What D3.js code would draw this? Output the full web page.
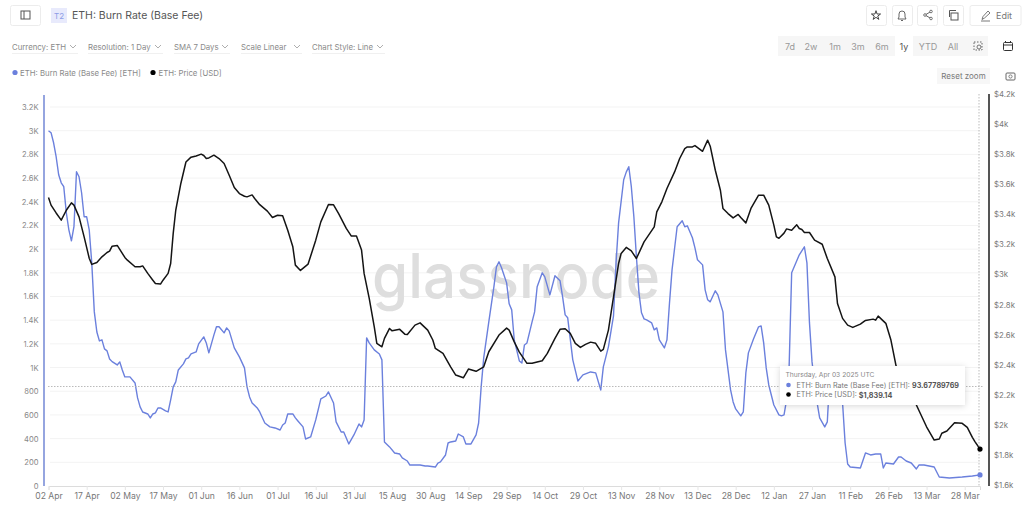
<!DOCTYPE html>
<html><head><meta charset="utf-8">
<script src="https://cdnjs.cloudflare.com/ajax/libs/d3/7.8.5/d3.min.js"></script>
<style>html,body{margin:0;padding:0;background:#fff;overflow:hidden}svg{display:block;font-family:Inter,"Open Sans",sans-serif}</style>
</head><body><svg id="c" width="1024" height="518"></svg>
<script>
const burnDays=[0,1,2,3,4,5,6,7,8,9,10,11,12,13,14,15,16,17,18,19,20,21,22,23,24,25,27,28,29,30,32,34,35,36,37,39,40,41,42,43,44,46,47,48,49,50,51,53,54,55,56,58,59,61,62,63,65,66,67,69,70,71,73,75,77,78,79,80,82,83,85,87,89,91,92,93,94,96,97,98,100,101,103,105,107,109,110,112,113,115,116,118,120,122,123,124,125,126,128,130,131,132,134,136,138,139,141,142,144,146,148,149,152,153,154,156,157,158,160,161,163,164,166,168,169,170,171,173,175,176,177,178,180,181,182,183,185,186,187,188,190,191,192,194,195,197,199,201,202,203,204,206,208,210,213,215,217,218,220,222,223,224,226,227,228,229,230,231,232,233,234,235,237,238,239,240,242,243,244,245,247,249,250,251,253,254,255,257,258,259,260,262,263,265,266,268,269,270,272,273,274,275,277,279,280,281,282,283,285,287,288,289,290,291,292,294,295,297,298,299,300,302,303,305,306,307,309,310,312,313,314,315,319,321,323,325,327,328,329,332,334,335,337,339,341,342,344,348,350,354,359,363,366];
const burnValues=[3000,2983,2898,2780,2628,2560,2527,2307,2163,2070,2189,2653,2611,2476,2273,2273,2163,1884,1470,1300,1225,1234,1158,1141,1073,1050,1022,1048,980,921,921,870,744,668,625,608,575,608,617,659,659,634,625,727,837,879,980,1031,1073,1082,1115,1132,1200,1259,1208,1124,1276,1344,1344,1293,1335,1310,1166,1090,997,837,752,701,659,625,532,499,490,473,515,532,608,608,575,549,499,397,414,558,735,760,794,701,541,456,456,355,431,524,499,558,1251,1208,1149,1115,1065,372,330,279,270,237,211,177,177,177,169,169,160,194,203,262,363,372,380,439,414,355,355,431,532,837,1082,1386,1682,1850,1893,1842,1715,1538,1487,1234,1056,1039,1191,1208,1386,1470,1682,1800,1766,1614,1775,1732,1597,1445,1420,1065,887,938,963,955,811,1006,1175,1437,1884,2222,2586,2650,2696,2527,2273,1935,1631,1462,1411,1403,1377,1318,1335,1234,1166,1234,1546,1825,2189,2239,2189,2197,2096,2011,1910,1867,1656,1572,1555,1648,1614,1470,1149,811,710,651,592,625,955,1124,1242,1344,1352,1208,997,853,684,600,592,600,727,1006,1800,1901,1952,2020,1884,1377,1048,701,575,499,541,938,980,963,701,363,186,160,152,279,262,270,270,152,194,186,245,245,211,194,144,177,177,160,76,68,76,85,93.68];
const priceDays=[0,1,3,5,7,9,10,12,14,16,17,19,21,23,24,25,27,29,30,31,34,36,37,39,41,42,44,45,47,48,49,50,52,54,56,58,60,61,62,63,65,67,69,71,73,75,77,78,80,81,83,86,88,90,92,94,96,97,99,102,105,107,110,112,114,117,119,121,123,124,126,128,129,131,132,134,135,138,140,141,144,146,149,151,152,155,158,160,163,165,168,171,173,177,180,181,183,185,188,190,194,196,199,201,203,205,207,209,211,213,215,217,218,220,222,224,225,227,229,231,234,238,239,241,243,246,248,250,251,253,254,257,259,260,262,264,265,267,269,271,272,274,276,279,281,283,285,286,287,289,290,292,294,295,296,297,299,301,304,306,309,310,312,314,316,319,321,324,325,326,329,331,333,337,341,345,348,350,351,353,356,359,361,363,364,366];
const priceValues=[3512,3461,3409,3361,3427,3476,3461,3383,3250,3108,3067,3080,3117,3146,3155,3188,3193,3140,3113,3095,3051,3051,3057,3007,2962,2940,2936,2962,3007,3073,3273,3427,3605,3748,3780,3788,3800,3791,3771,3775,3793,3771,3738,3660,3578,3538,3520,3516,3529,3505,3464,3421,3379,3394,3390,3294,3184,3062,3027,3069,3228,3350,3465,3463,3405,3306,3255,3255,3162,3007,2843,2652,2542,2519,2575,2641,2625,2635,2603,2601,2663,2678,2630,2564,2508,2475,2386,2331,2313,2371,2356,2386,2486,2597,2643,2630,2552,2484,2409,2409,2426,2475,2575,2635,2639,2608,2542,2515,2535,2550,2542,2490,2502,2630,2851,3073,3140,3180,3157,3106,3217,3316,3416,3483,3572,3682,3771,3837,3848,3848,3857,3819,3893,3853,3693,3560,3439,3405,3376,3399,3379,3343,3439,3527,3527,3461,3328,3250,3241,3275,3303,3294,3330,3306,3299,3279,3279,3228,3201,3106,2984,2807,2708,2663,2648,2670,2694,2703,2696,2723,2675,2564,2394,2265,2132,1987,1899,1906,1944,1959,2014,2010,1983,1917,1888,1839.14];
const leftTicks=[0,200,400,600,800,1000,1200,1400,1600,1800,2000,2200,2400,2600,2800,3000,3200];
const rightTicks=[1600,1800,2000,2200,2400,2600,2800,3000,3200,3400,3600,3800,4000,4200];
const xTickDays=[0,15,30,45,60,75,90,105,120,135,150,165,180,195,210,225,240,255,270,285,300,315,330,345,360];
const controls=[["Currency: ETH",12,70],["Resolution: 1 Day",88,155],["SMA 7 Days",174,222],["Scale Linear",241,294],["Chart Style: Line",312,377]];
const ranges=[["7d",790],["2w",811],["1m",835],["3m",858],["6m",882],["1y",904],["YTD",928],["All",953]];
const startDate=Date.UTC(2024,3,2), DAY=864e5;
const toDate=d=>new Date(startDate+d*DAY);
const blue="#6b80dd", black="#141414";

const svg=d3.select("#c");
const x=d3.scaleUtc().domain([toDate(0),toDate(366)]).range([48.5,980]);
const yL=d3.scaleLinear().domain([0,3200]).range([486,107]);
const yR=d3.scaleLinear().domain([1600,4200]).range([485,94]);

const defs=svg.append("defs");
const f=defs.append("filter").attr("id","sh").attr("x","-10%").attr("y","-30%").attr("width","120%").attr("height","160%");
f.append("feDropShadow").attr("dx",0).attr("dy",1).attr("stdDeviation",3).attr("flood-color","#000").attr("flood-opacity",0.16);

// header
const box=(x0,y0,w,h)=>svg.append("rect").attr("x",x0+.5).attr("y",y0+.5).attr("width",w).attr("height",h).attr("rx",2).attr("fill","#fff").attr("stroke","#ececec");
const T=(s,x0,y0,size,col,anchor,weight)=>svg.append("text").text(s).attr("x",x0).attr("y",y0).attr("font-size",size).attr("fill",col).attr("text-anchor",anchor||"start").attr("font-weight",weight||400).attr("dominant-baseline","central");
box(10,5,30,20);
svg.append("rect").attr("x",21).attr("y",11).attr("width",9).attr("height",8).attr("fill","none").attr("stroke","#555");
svg.append("line").attr("x1",24).attr("x2",24).attr("y1",11).attr("y2",19).attr("stroke","#555");
svg.append("rect").attr("x",51).attr("y",8).attr("width",16).attr("height",15).attr("fill","#e8eafc");
T("T2",59,15.5,8,"#8d9ce6","middle");
T("ETH: Burn Rate (Base Fee)",72,15,10.5,"#555");

controls.forEach(c=>{
  T(c[0],c[1],46.5,7.8,"#8a8a8a");
  svg.append("line").attr("x1",c[1]).attr("x2",c[2]+8).attr("y1",53.5).attr("y2",53.5).attr("stroke","#f0f0f0");
  svg.append("path").attr("d",`M${c[2]},45 l3,3 l3,-3`).attr("fill","none").attr("stroke","#999").attr("stroke-width",.8);
});
svg.append("circle").attr("cx",15).attr("cy",72.5).attr("r",2.6).attr("fill",blue);
T("ETH: Burn Rate (Base Fee) [ETH]",20,72.5,7.8,"#8a8a8a");
svg.append("circle").attr("cx",153).attr("cy",72.5).attr("r",2.6).attr("fill","#000");
T("ETH: Price [USD]",158.5,72.5,7.8,"#8a8a8a");

// right tools
[[866,20],[892,20],[917,20],[943,20]].forEach(b=>box(b[0],5,b[1],20));
box(969.5,5,51,20);
svg.append("path").attr("d",d3.symbol(d3.symbolStar,26)()).attr("transform","translate(876,15.5)").attr("fill","none").attr("stroke","#444");
svg.append("path").attr("d","M898,19 h8 l-1,-2 v-3 a3,3 0 0 0 -6,0 v3 z M901,20.5 h2").attr("fill","none").attr("stroke","#555").attr("stroke-width",.9);
svg.append("path").attr("d","M931,11.5 L925,15 L931,18.5").attr("fill","none").attr("stroke","#555").attr("stroke-width",.9);
[[931,11.5],[925,15],[931,18.5]].forEach(p=>svg.append("circle").attr("cx",p[0]).attr("cy",p[1]).attr("r",1.3).attr("fill","#fff").attr("stroke","#555").attr("stroke-width",.8));
svg.append("rect").attr("x",951).attr("y",13).attr("width",7).attr("height",7).attr("fill","none").attr("stroke","#555");
svg.append("path").attr("d","M949.5,17 v-6.5 h6.5").attr("fill","none").attr("stroke","#555");
svg.append("path").attr("d","M982,19.5 l1,-3 l5,-5.5 l2,2 l-5.5,5 z M981,21 h9").attr("fill","none").attr("stroke","#555").attr("stroke-width",.8);
T("Edit",996,15,9,"#777");

svg.append("rect").attr("x",778).attr("y",36).attr("width",210).attr("height",20).attr("fill","#f6f6f6");
svg.append("rect").attr("x",895).attr("y",36).attr("width",18).attr("height",20).attr("fill","#fff");
ranges.forEach(r=>T(r[0],r[1],46.5,9,r[0]==="1y"?"#555":"#999","middle"));
svg.append("rect").attr("x",974).attr("y",42).attr("width",8).attr("height",8).attr("fill","none").attr("stroke","#666").attr("stroke-dasharray","1.5 1.5");
svg.append("circle").attr("cx",979).attr("cy",47).attr("r",2).attr("fill","#f6f6f6").attr("stroke","#555").attr("stroke-width",.8);
svg.append("rect").attr("x",1003.5).attr("y",42.5).attr("width",9).attr("height",8).attr("rx",1).attr("fill","none").attr("stroke","#333");
svg.append("path").attr("d","M1003.5,45 h9 M1005.5,41 v2 M1010.5,41 v2").attr("stroke","#333").attr("fill","none");
svg.append("rect").attr("x",937).attr("y",68).attr("width",53).attr("height",16).attr("fill","#f7f7f7");
T("Reset zoom",963.5,76,8,"#777","middle");
svg.append("rect").attr("x",1006).attr("y",73).attr("width",9).attr("height",7).attr("rx",1).attr("fill","none").attr("stroke","#666");
svg.append("circle").attr("cx",1010.5).attr("cy",76.5).attr("r",1.6).attr("fill","none").attr("stroke","#666").attr("stroke-width",.8);

// grid
svg.append("g").selectAll("line").data(leftTicks.slice(1)).join("line")
  .attr("x1",50).attr("x2",980).attr("y1",d=>yL(d)).attr("y2",d=>yL(d)).attr("stroke","#f3f3f3");

// watermark
svg.append("text").text("glassnode").attr("x",516).attr("y",298).attr("text-anchor","middle")
  .attr("font-family","Inter,sans-serif").attr("font-weight",500).attr("font-size",62).attr("fill","#dedede")
  .attr("textLength",288).attr("lengthAdjust","spacingAndGlyphs");

// axes
const axB=d3.axisBottom(x).tickValues(xTickDays.map(toDate)).tickFormat(d3.utcFormat("%d %b")).tickSize(4).tickPadding(3);
const gB=svg.append("g").attr("transform","translate(0,486)").call(axB);
gB.select(".domain").attr("stroke","#dcdcdc").attr("stroke-width",1);
gB.selectAll(".tick line").attr("stroke","#e6e6e6");
gB.selectAll("text").attr("font-size",8.6).attr("fill","#777").attr("font-family","Inter");

const axL=d3.axisLeft(yL).tickValues(leftTicks).tickFormat(d=>d>=1000?(d/1000)+"K":d).tickSize(0).tickPadding(0);
const gL=svg.append("g").attr("transform","translate(38.5,0)").call(axL);
gL.select(".domain").remove();
gL.selectAll("text").attr("font-size",7.6).attr("fill","#888").attr("font-family","Inter");
svg.append("line").attr("x1",44).attr("x2",44).attr("y1",95).attr("y2",486).attr("stroke","#7b8fd8").attr("stroke-width",1.6);

const axR=d3.axisRight(yR).tickValues(rightTicks).tickFormat(d=>"$"+(d/1000)+"k").tickSize(0).tickPadding(0);
const gR=svg.append("g").attr("transform","translate(994,0)").call(axR);
gR.select(".domain").remove();
gR.selectAll("text").attr("font-size",7.8).attr("fill","#777").attr("font-family","Inter");
svg.append("line").attr("x1",989).attr("x2",989).attr("y1",94).attr("y2",486).attr("stroke","#555").attr("stroke-width",2);

// series
const lineOf=(days,vals,y)=>d3.line().x((d,i)=>x(toDate(days[i]))).y(d=>y(d))(vals);
svg.append("path").attr("d",lineOf(burnDays,burnValues,yL)).attr("fill","none").attr("stroke",blue).attr("stroke-width",1.4).attr("stroke-linejoin","round");
svg.append("path").attr("d",lineOf(priceDays,priceValues,yR)).attr("fill","none").attr("stroke",black).attr("stroke-width",1.5).attr("stroke-linejoin","round");

// crosshair
svg.append("line").attr("x1",48).attr("x2",983).attr("y1",386.5).attr("y2",386.5).attr("stroke","#aaa").attr("stroke-dasharray","1.5 1.5").attr("stroke-width",.8);
svg.append("line").attr("x1",979).attr("x2",979).attr("y1",94).attr("y2",486).attr("stroke","#aaa").attr("stroke-dasharray","1.5 1.5").attr("stroke-width",.8);
svg.append("circle").attr("cx",x(toDate(366))).attr("cy",yL(burnValues[burnValues.length-1])).attr("r",2.6).attr("fill",blue);
svg.append("circle").attr("cx",x(toDate(366))).attr("cy",yR(priceValues[priceValues.length-1])).attr("r",2.6).attr("fill","#000");

// tooltip
svg.append("rect").attr("x",780).attr("y",366).attr("width",185).attr("height",39).attr("fill","#fff").attr("filter","url(#sh)");
T("Thursday, Apr 03 2025 UTC",785.5,375,6.7,"#888");
svg.append("circle").attr("cx",788.5).attr("cy",385).attr("r",2.3).attr("fill",blue);
svg.append("circle").attr("cx",788.5).attr("cy",394.5).attr("r",2.3).attr("fill","#000");
const t1=T("ETH: Burn Rate (Base Fee) [ETH]: ",796.5,385,7.2,"#777");
t1.append("tspan").text("93.67789769").attr("font-weight",700).attr("fill","#555");
const t2=T("ETH: Price [USD]: ",796.5,394.5,7.2,"#777");
t2.append("tspan").text("$1,839.14").attr("font-weight",700).attr("fill","#555");
</script></body></html>
